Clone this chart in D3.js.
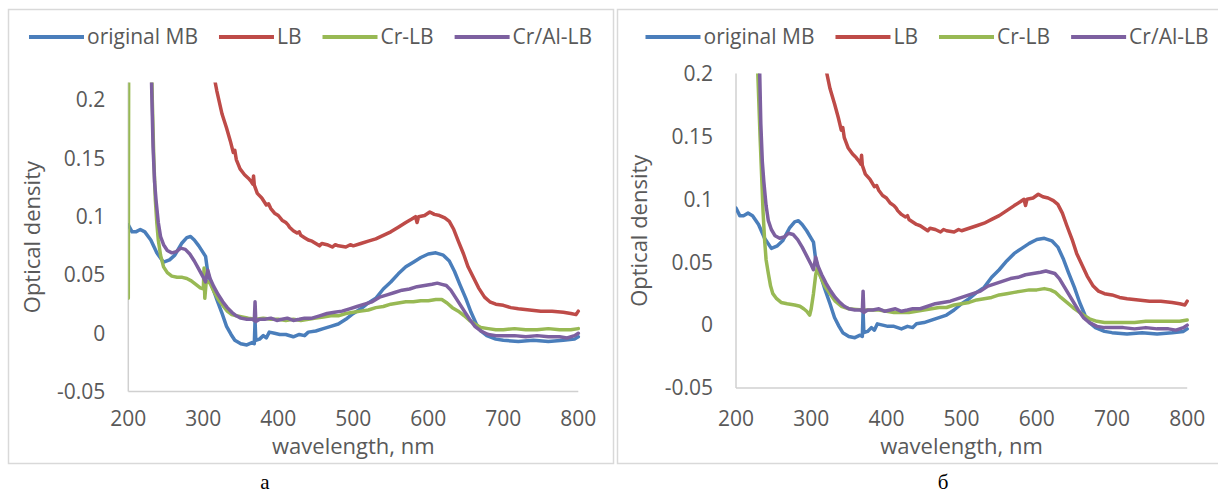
<!DOCTYPE html>
<html>
<head>
<meta charset="utf-8">
<script src="https://cdn.jsdelivr.net/npm/d3@7"></script>
<style>
  body { margin: 0; background: #fff; }
  text { font-family: "Open Sans", sans-serif; fill: #595959; }
</style>
</head>
<body>
<svg id="chart" width="1218" height="493"></svg>
<script>
// series shown in both panels (wavelength nm, optical density)
const seriesNames = ['original MB', 'LB', 'Cr-LB', 'Cr/Al-LB'];
const seriesColors = ['#4A7EBB', '#BE4B48', '#98B954', '#7D60A0'];
const xTicks = [200, 300, 400, 500, 600, 700, 800];
const yTicks = [-0.05, 0, 0.05, 0.1, 0.15, 0.2];

const originalMB = [
  [200, 0.093], [205, 0.087], [210, 0.087], [216, 0.089], [222, 0.087], [230, 0.080],
  [238, 0.069], [247, 0.061], [255, 0.063], [262, 0.067], [271, 0.077], [278, 0.082],
  [283, 0.083], [288, 0.080], [294, 0.075], [300, 0.069], [303, 0.066], [306, 0.052],
  [312, 0.040], [318, 0.029], [325, 0.017], [331, 0.006], [337, -0.001], [342, -0.006],
  [350, -0.009], [358, -0.010], [365, -0.008], [368, -0.009], [369, 0.011], [370, -0.006],
  [375, -0.005], [380, -0.002], [384, -0.004], [388, 0.001], [395, 0.000], [402, -0.001],
  [410, -0.001], [420, -0.003], [428, -0.001], [435, -0.002], [440, 0.001], [450, 0.002],
  [460, 0.004], [470, 0.006], [480, 0.008], [490, 0.012], [500, 0.017], [510, 0.021],
  [520, 0.026], [530, 0.030], [540, 0.038], [550, 0.044], [560, 0.051], [570, 0.057],
  [580, 0.061], [590, 0.065], [600, 0.068], [610, 0.069], [620, 0.067], [628, 0.062],
  [635, 0.053], [642, 0.042], [650, 0.030], [657, 0.018], [664, 0.008], [670, 0.002],
  [678, -0.002], [690, -0.005], [700, -0.006], [720, -0.007], [740, -0.006], [760, -0.007],
  [780, -0.006], [795, -0.005], [800, -0.003]
];

const lb = [
  [285, 0.40], [295, 0.32], [305, 0.26], [312, 0.228], [318, 0.208], [325, 0.188],
  [331, 0.176], [336, 0.165], [340, 0.155], [342, 0.157], [344, 0.149], [349, 0.141],
  [355, 0.136], [360, 0.133], [364, 0.130], [366, 0.128], [367, 0.135], [368, 0.127],
  [372, 0.120], [378, 0.116], [384, 0.110], [387, 0.111], [390, 0.107], [395, 0.103],
  [400, 0.101], [405, 0.097], [410, 0.095], [413, 0.093], [415, 0.091], [420, 0.088],
  [425, 0.086], [428, 0.087], [430, 0.084], [435, 0.082], [440, 0.080], [445, 0.079],
  [450, 0.077], [455, 0.075], [458, 0.077], [465, 0.076], [472, 0.074], [476, 0.076],
  [480, 0.075], [490, 0.074], [496, 0.076], [500, 0.075], [510, 0.077], [520, 0.079],
  [530, 0.081], [540, 0.084], [550, 0.087], [560, 0.091], [570, 0.095], [578, 0.098],
  [583, 0.100], [585, 0.095], [587, 0.100], [595, 0.101], [602, 0.104], [608, 0.102],
  [615, 0.101], [622, 0.099], [628, 0.096], [634, 0.089], [640, 0.079], [647, 0.068],
  [653, 0.057], [660, 0.048], [667, 0.039], [675, 0.031], [682, 0.027], [690, 0.025],
  [700, 0.024], [710, 0.022], [720, 0.021], [735, 0.020], [750, 0.019], [765, 0.019],
  [780, 0.018], [790, 0.017], [797, 0.016], [800, 0.019]
];

const crAlLb = [
  [225, 0.40], [229, 0.27], [231, 0.215], [233, 0.160], [235, 0.130], [237, 0.114],
  [240, 0.095], [243, 0.083], [247, 0.076], [252, 0.071], [258, 0.069], [264, 0.070],
  [270, 0.073], [276, 0.072], [282, 0.068], [288, 0.062], [294, 0.055], [300, 0.048],
  [303, 0.044], [306, 0.054], [309, 0.047], [314, 0.040], [320, 0.033], [326, 0.027],
  [332, 0.022], [338, 0.018], [344, 0.015], [350, 0.013], [358, 0.012], [365, 0.012],
  [368, 0.011], [369, 0.027], [370, 0.010], [375, 0.012], [382, 0.012], [390, 0.013],
  [398, 0.011], [405, 0.012], [412, 0.013], [420, 0.011], [428, 0.012], [435, 0.013],
  [445, 0.013], [455, 0.015], [465, 0.017], [475, 0.018], [485, 0.019], [495, 0.021],
  [505, 0.023], [515, 0.025], [525, 0.027], [535, 0.031], [545, 0.033], [555, 0.035],
  [565, 0.037], [575, 0.038], [585, 0.040], [595, 0.041], [605, 0.042], [612, 0.043],
  [618, 0.042], [624, 0.041], [630, 0.037], [636, 0.031], [642, 0.025], [648, 0.019],
  [655, 0.012], [662, 0.006], [670, 0.002], [680, -0.001], [690, -0.002], [700, -0.002],
  [715, -0.002], [730, -0.003], [745, -0.002], [760, -0.003], [775, -0.003], [785, -0.004],
  [795, -0.002], [800, 0.000]
];

// Cr-LB differs between panel "а" and panel "б"
const crLbA = [
  [200, 0.030], [201, 0.45], [225, 0.45], [229, 0.30], [232, 0.20], [234, 0.150],
  [236, 0.115], [238, 0.095], [240, 0.080], [243, 0.067], [247, 0.057], [252, 0.052],
  [258, 0.049], [265, 0.048], [272, 0.048], [278, 0.047], [284, 0.045], [290, 0.042],
  [296, 0.039], [300, 0.038], [301, 0.056], [302, 0.030], [304, 0.045], [309, 0.043],
  [314, 0.036], [320, 0.029], [326, 0.024], [332, 0.019], [338, 0.016], [344, 0.015],
  [352, 0.014], [360, 0.013], [370, 0.012], [380, 0.013], [390, 0.012], [400, 0.012],
  [410, 0.011], [420, 0.012], [430, 0.011], [440, 0.012], [450, 0.013], [460, 0.014],
  [470, 0.015], [480, 0.015], [490, 0.017], [500, 0.018], [510, 0.019], [520, 0.020],
  [530, 0.022], [540, 0.023], [550, 0.025], [560, 0.026], [570, 0.027], [580, 0.027],
  [590, 0.028], [600, 0.028], [610, 0.029], [618, 0.029], [625, 0.026], [632, 0.022],
  [640, 0.019], [648, 0.015], [655, 0.011], [662, 0.008], [670, 0.005], [680, 0.004],
  [690, 0.003], [700, 0.003], [715, 0.004], [730, 0.003], [745, 0.003], [760, 0.004],
  [775, 0.003], [790, 0.003], [800, 0.004]
];

const crLbB = [
  [222, 0.45], [227, 0.26], [229, 0.20], [232, 0.150], [234, 0.120], [236, 0.090],
  [238, 0.068], [240, 0.052], [243, 0.041], [246, 0.031], [249, 0.025], [254, 0.021],
  [260, 0.018], [268, 0.017], [278, 0.016], [285, 0.015], [290, 0.013], [294, 0.011],
  [298, 0.008], [300, 0.013], [303, 0.025], [306, 0.040], [308, 0.045], [312, 0.039],
  [318, 0.031], [325, 0.025], [332, 0.019], [340, 0.015], [350, 0.013], [360, 0.0125],
  [370, 0.012], [380, 0.012], [390, 0.012], [400, 0.011], [410, 0.010], [420, 0.010],
  [430, 0.010], [440, 0.011], [450, 0.012], [460, 0.013], [470, 0.014], [480, 0.014],
  [490, 0.016], [500, 0.017], [510, 0.018], [520, 0.020], [530, 0.021], [540, 0.022],
  [550, 0.024], [560, 0.025], [570, 0.026], [580, 0.027], [590, 0.028], [600, 0.028],
  [610, 0.029], [618, 0.028], [625, 0.026], [632, 0.022], [640, 0.018], [648, 0.014],
  [655, 0.011], [662, 0.008], [670, 0.005], [680, 0.003], [690, 0.002], [700, 0.002],
  [715, 0.002], [730, 0.002], [745, 0.003], [760, 0.003], [775, 0.003], [790, 0.003],
  [800, 0.004]
];

const panels = [
  { box: [8, 9, 605, 454], plot: { left: 128.3, right: 578.3, top: 82.6, bottom: 391.6 },
    yMax: 0.215, crLb: crLbA, label: 'а', labelX: 265 },
  { box: [617, 9, 620, 454], plot: { left: 736, right: 1187.2, top: 73.5, bottom: 388 },
    yMax: 0.2, crLb: crLbB, label: 'б', labelX: 943 }
];

const svg = d3.select('#chart');
const fmt = d => String(+d.toFixed(2));

panels.forEach((p, i) => {
  const series = [originalMB, lb, p.crLb, crAlLb];
  const x = d3.scaleLinear().domain([200, 800]).range([p.plot.left, p.plot.right]);
  const y = d3.scaleLinear().domain([-0.05, p.yMax]).range([p.plot.bottom, p.plot.top]);

  // panel frame
  svg.append('rect')
    .attr('x', p.box[0] + 0.5).attr('y', p.box[1] + 0.5)
    .attr('width', p.box[2]).attr('height', p.box[3])
    .attr('fill', 'none').attr('stroke', '#d9d9d9').attr('stroke-width', 1.5);

  const g = svg.append('g');

  // axes
  g.append('line')
    .attr('x1', x(200)).attr('x2', x(200))
    .attr('y1', p.plot.top).attr('y2', p.plot.bottom)
    .attr('stroke', '#d0d0d0').attr('stroke-width', 1.5);
  g.append('line')
    .attr('x1', x(200)).attr('x2', x(800))
    .attr('y1', y(-0.05)).attr('y2', y(-0.05))
    .attr('stroke', '#d0d0d0').attr('stroke-width', 1.5);

  g.selectAll('text.ytick').data(yTicks).enter().append('text')
    .attr('class', 'ytick')
    .attr('x', p.plot.left - 23)
    .attr('y', d => y(d))
    .attr('dy', '0.35em')
    .attr('text-anchor', 'end')
    .style('font-size', '21px')
    .text(fmt);

  g.selectAll('text.xtick').data(xTicks).enter().append('text')
    .attr('class', 'xtick')
    .attr('x', d => x(d))
    .attr('y', 419)
    .attr('dy', '0.35em')
    .attr('text-anchor', 'middle')
    .style('font-size', '21px')
    .text(d => d);

  g.append('text')
    .attr('x', (p.plot.left + p.plot.right) / 2)
    .attr('y', 446)
    .attr('dy', '0.35em')
    .attr('text-anchor', 'middle')
    .style('font-size', '22px')
    .text('wavelength, nm');

  g.append('text')
    .attr('transform', `translate(${p.plot.left - 96.5},${(p.plot.top + p.plot.bottom) / 2}) rotate(-90)`)
    .attr('dy', '0.35em')
    .attr('text-anchor', 'middle')
    .style('font-size', '22px')
    .text('Optical density');

  // lines, clipped to plot area
  const clipId = 'clip' + i;
  svg.append('clipPath').attr('id', clipId)
    .append('rect')
    .attr('x', p.plot.left).attr('y', p.plot.top)
    .attr('width', p.plot.right - p.plot.left + 4)
    .attr('height', p.plot.bottom - p.plot.top);

  const line = d3.line().x(d => x(d[0])).y(d => y(d[1]));
  g.append('g').attr('clip-path', `url(#${clipId})`)
    .selectAll('path').data(series).enter().append('path')
    .attr('d', line)
    .attr('fill', 'none')
    .attr('stroke', (d, k) => seriesColors[k])
    .attr('stroke-width', 3.5)
    .attr('stroke-linejoin', 'round')
    .attr('stroke-linecap', 'round');

  // legend, centred in the panel
  const lg = g.append('g');
  let cx = 0;
  seriesNames.forEach((name, k) => {
    const item = lg.append('g').attr('transform', `translate(${cx},0)`);
    item.append('line')
      .attr('x1', 0).attr('x2', 55).attr('y1', 0).attr('y2', 0)
      .attr('stroke', seriesColors[k]).attr('stroke-width', 4);
    const t = item.append('text')
      .attr('x', 58).attr('dy', '0.35em')
      .style('font-size', '21px')
      .text(name);
    cx += 58 + t.node().getComputedTextLength() + 21;
  });
  const legendW = cx - 21;
  lg.attr('transform', `translate(${p.box[0] + p.box[2] / 2 - legendW / 2},37)`);

  // sub-figure letter
  svg.append('text')
    .attr('x', p.labelX).attr('y', 489)
    .attr('text-anchor', 'middle')
    .style('font-family', '"Liberation Serif", serif')
    .style('font-size', '21px')
    .style('fill', '#000')
    .text(p.label);
});
</script>
</body>
</html>
